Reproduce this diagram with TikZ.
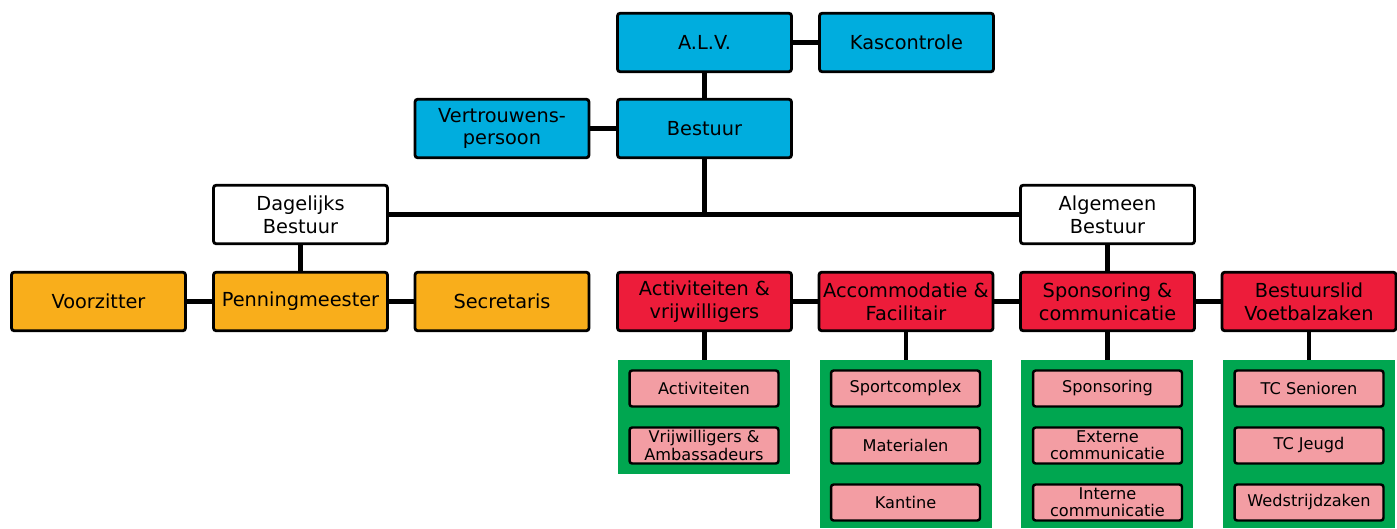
\documentclass[tikz,border=0pt]{standalone}
\usepackage{fontspec}
\setmainfont{DejaVu Sans}
\usetikzlibrary{positioning}

\definecolor{blauw}{RGB}{0,173,222}
\definecolor{oranje}{RGB}{249,174,27}
\definecolor{rood}{RGB}{237,28,58}
\definecolor{roze}{RGB}{243,157,163}
\definecolor{groen}{RGB}{0,166,80}

\begin{document}
\begin{tikzpicture}[x=0.02cm,y=-0.02cm]
            \tikzstyle{box}=[rectangle,rounded corners=1.5pt,line width=1.6pt,draw,align=center,
                             minimum width=3.48cm,minimum height=1.17cm,inner sep=1pt,
                             font=\fontsize{11}{13}\selectfont]
            \tikzstyle{link}=[line width=2.8pt]

            \tikzstyle{B}=[box,fill=blauw]     % bestuur
            \tikzstyle{W}=[box,fill=white]     % dagelijks / algemeen
            \tikzstyle{O}=[box,fill=oranje]    % dagelijks bestuur
            \tikzstyle{R}=[box,fill=rood]      % algemeen bestuur
            \tikzstyle{P}=[box,fill=roze,minimum width=2.98cm,minimum height=0.72cm,
                           line width=1.4pt,font=\fontsize{9.2}{9.8}\selectfont]  % commissie
            \tikzstyle{G}=[rectangle,fill=groen,minimum width=3.44cm,inner sep=0pt]

            \useasboundingbox (0,0) rectangle (1397,528);

            \node[B] (alv)  at (704.5, 42.5) {A.L.V.};
            \node[B] (kas)  at (906.5, 42.5) {Kascontrole};
            \node[B] (vp)   at (502,  128.5) {Vertrouwens-\\persoon};
            \node[B] (best) at (704.5,128.5) {Bestuur};

            \node[W] (dag) at ( 300.5,214.5) {Dagelijks\\Bestuur};
            \node[W] (alg) at (1107.5,214.5) {Algemeen\\Bestuur};

            \node[O] (voor) at ( 98.5,301.5) {Voorzitter};
            \node[O] (penn) at (300.5,301.5) {Penningmeester};
            \node[O] (secr) at (502,  301.5) {Secretaris};

            \node[R] (act)  at ( 704.5,301.5) {Activiteiten \&\\vrijwilligers};
            \node[R] (acc)  at ( 906,  301.5) {Accommodatie \&\\Facilitair};
            \node[R] (spon) at (1107.5,301.5) {Sponsoring \&\\communicatie};
            \node[R] (bvz)  at (1309,  301.5) {Bestuurslid\\Voetbalzaken};

            % groene vlakken
            \node[G,minimum height=2.28cm] (g1) at ( 704,417) {};
            \node[G,minimum height=3.36cm] (g2) at ( 906,444) {};
            \node[G,minimum height=3.36cm] (g3) at (1107,444) {};
            \node[G,minimum height=3.36cm] (g4) at (1309,444) {};

            \node[P] (p11) at ( 704,  388.5) {Activiteiten};
            \node[P] (p12) at ( 704,  445.5) {Vrijwilligers \&\\Ambassadeurs};
            \node[P] (p21) at ( 905.5,388.5) {Sportcomplex};
            \node[P] (p22) at ( 905.5,445.5) {Materialen};
            \node[P] (p23) at ( 905.5,502.5) {Kantine};
            \node[P] (p31) at (1107.5,388.5) {Sponsoring};
            \node[P] (p32) at (1107.5,445.5) {Externe\\communicatie};
            \node[P] (p33) at (1107.5,502.5) {Interne\\communicatie};
            \node[P] (p41) at (1309,  388.5) {TC Senioren};
            \node[P] (p42) at (1309,  445.5) {TC Jeugd};
            \node[P] (p43) at (1309,  502.5) {Wedstrijdzaken};

            \draw[link] (alv) -- (kas);
            \draw[link] (alv) -- (best);
            \draw[link] (vp) -- (best);
            \draw[link] (dag) -- (alg);
            \draw[link] (best) -- (best |- dag);
            \draw[link] (dag) -- (penn);
            \draw[link] (voor) -- (penn);
            \draw[link] (penn) -- (secr);
            \draw[link] (alg) -- (spon);
            \draw[link] (act) -- (acc);
            \draw[link] (acc) -- (spon);
            \draw[link] (spon) -- (bvz);
            \draw[link] (act) -- (act |- g1.north);
            \draw[link] (acc) -- (acc |- g2.north);
            \draw[link] (spon) -- (spon |- g3.north);
            \draw[link] (bvz) -- (bvz |- g4.north);
        \end{tikzpicture}
\end{document}
